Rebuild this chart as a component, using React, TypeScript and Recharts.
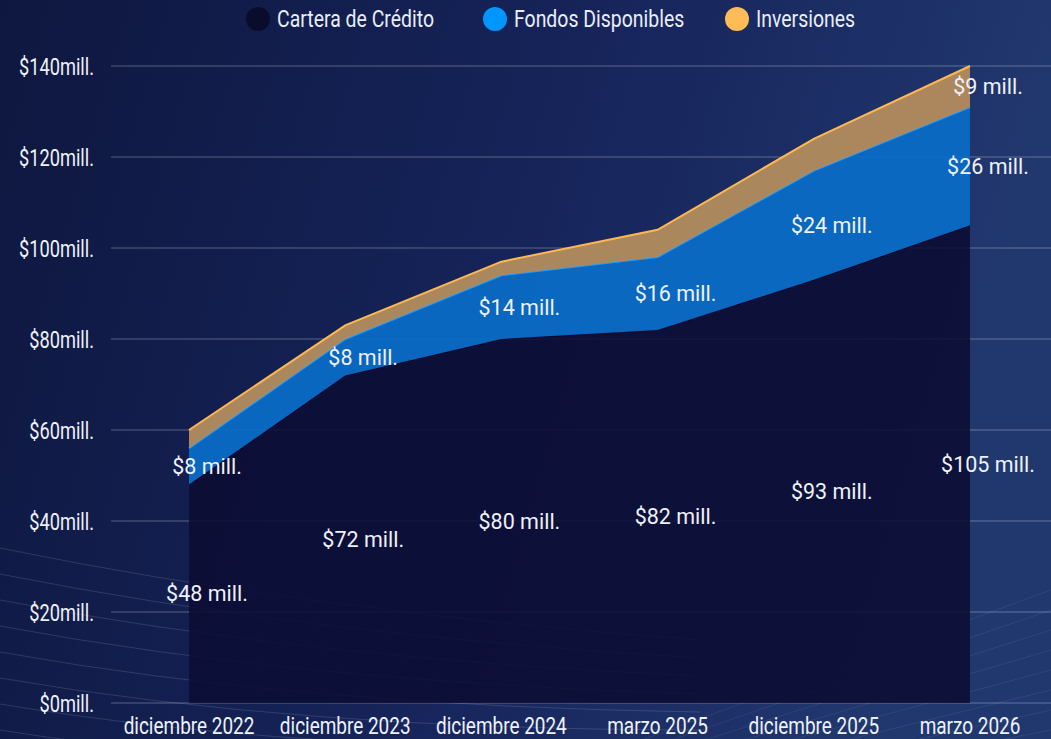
import React from 'react';
import { ComposedChart, Area, Line, XAxis, YAxis, CartesianGrid, Legend, LabelList } from 'recharts';

const categories = ['diciembre 2022', 'diciembre 2023', 'diciembre 2024', 'marzo 2025', 'diciembre 2025', 'marzo 2026'];
const cartera = [48, 72, 80, 82, 93, 105];
const fondos = [8, 8, 14, 16, 24, 26];
const inversiones = [4, 3, 3, 6, 7, 9];
const yTicks = [0, 20, 40, 60, 80, 100, 120, 140];

const seriesNames = ['Cartera de Crédito', 'Fondos Disponibles', 'Inversiones'];
const legendColors = ['#0a0c2e', '#0096ff', '#ffbb55'];
const legendLeft = [246, 483, 725];

const data = categories.map((c, i) => ({
  name: c,
  cartera: cartera[i],
  fondos: fondos[i],
  inversiones: inversiones[i],
  midCartera: cartera[i] / 2,
  midFondos: cartera[i] + fondos[i] / 2,
  midInversiones: cartera[i] + fondos[i] + inversiones[i] / 2,
}));

const FONT = 'Roboto, sans-serif';
const SQUEEZE = 0.79;

const makeLabel = (values: number[]) => (props: any) => {
  const { x, y, index } = props;
  const v = values[index];
  if (v < 8) return null;
  return (
    <text
      x={x + 18}
      y={y}
      textAnchor="middle"
      dominantBaseline="central"
      fill="#eef1f8"
      style={{ fontFamily: FONT, fontSize: 21.5 }}
    >
      {`$${v} mill.`}
    </text>
  );
};

const XTick = (props: any) => {
  const { x, y, payload } = props;
  return (
    <g transform={`translate(${x},${y})`}>
      <text
        transform={`scale(${SQUEEZE},1)`}
        textAnchor="middle"
        dy="0.75em"
        fill="#eef1f8"
        style={{ fontFamily: FONT, fontSize: 24 }}
      >
        {payload.value}
      </text>
    </g>
  );
};

const YTick = (props: any) => {
  const { x, y, payload } = props;
  return (
    <g transform={`translate(${x},${y})`}>
      <text
        transform={`scale(${SQUEEZE - 0.03},1)`}
        textAnchor="end"
        dy="0.36em"
        fill="#eef1f8"
        style={{ fontFamily: FONT, fontSize: 24 }}
      >
        {`$${payload.value}mill.`}
      </text>
    </g>
  );
};

const LegendContent = () => (
  <div style={{ position: 'relative', height: 38, width: 1051, fontFamily: FONT, fontSize: 24, color: '#e9edf7' }}>
    {seriesNames.map((n, i) => (
      <div
        key={n}
        style={{ position: 'absolute', left: legendLeft[i], top: 0, height: 38, display: 'flex', alignItems: 'center' }}
      >
        <span
          style={{
            display: 'inline-block',
            width: 24,
            height: 24,
            borderRadius: 12,
            background: legendColors[i],
            marginRight: 7,
            flex: 'none',
          }}
        />
        <span
          style={{
            display: 'inline-block',
            whiteSpace: 'nowrap',
            transform: `scaleX(${SQUEEZE + 0.02})`,
            transformOrigin: 'left center',
          }}
        >
          {n}
        </span>
      </div>
    ))}
  </div>
);

const Background = () => {
  const curves = [0, 1, 2, 3, 4, 5, 6, 7, 8];
  return (
    <svg width={1051} height={739} style={{ position: 'absolute', left: 0, top: 0 }}>
      <defs>
        <linearGradient id="bg" x1="0" y1="0" x2="1" y2="0.2">
          <stop offset="0%" stopColor="#0e173f" />
          <stop offset="55%" stopColor="#16245a" />
          <stop offset="100%" stopColor="#21386f" />
        </linearGradient>
      </defs>
      <rect x={0} y={0} width={1051} height={739} fill="url(#bg)" />
      {curves.map((i) => (
        <path
          key={i}
          d={`M0,${548 + i * 26} Q300,${610 + i * 24} 700,${640 + i * 18}`}
          fill="none"
          stroke="rgba(255,255,255,0.13)"
          strokeWidth={1}
        />
      ))}
      {curves.map((i) => (
        <path
          key={'d' + i}
          d={`M560,${770 + i * 8} L1051,${590 + i * 20}`}
          fill="none"
          stroke="rgba(255,255,255,0.07)"
          strokeWidth={1}
        />
      ))}
    </svg>
  );
};

export default function App() {
  return (
    <div style={{ position: 'absolute', left: 0, top: 0, width: 1051, height: 739, overflow: 'hidden' }}>
      <Background />
      <div style={{ position: 'absolute', left: 0, top: 0 }}>
        <ComposedChart width={1051} height={739} data={data} margin={{ top: 28, right: 0, bottom: 0, left: 0 }}>
          <CartesianGrid vertical={false} stroke="rgba(255,255,255,0.3)" strokeWidth={1} />
          <XAxis
            dataKey="name"
            scale="point"
            padding={{ left: 78, right: 81 }}
            height={36}
            axisLine={false}
            tickLine={false}
            tickSize={0}
            tickMargin={13}
            interval={0}
            tick={<XTick />}
          />
          <YAxis
            width={111}
            domain={[0, 140]}
            ticks={yTicks}
            axisLine={false}
            tickLine={false}
            tickSize={0}
            tickMargin={17}
            tick={<YTick />}
          />
          <Legend verticalAlign="top" content={<LegendContent />} wrapperStyle={{ top: 0, left: 0, width: 1051 }} />
          <Area
            type="linear"
            dataKey="cartera"
            stackId="a"
            stroke="#07092a"
            strokeWidth={2}
            fill="#0b0d33"
            fillOpacity={0.88}
            isAnimationActive={false}
          />
          <Area
            type="linear"
            dataKey="fondos"
            stackId="a"
            stroke="#1a9bff"
            strokeWidth={2}
            fill="#0a6cc6"
            fillOpacity={0.95}
            isAnimationActive={false}
          />
          <Area
            type="linear"
            dataKey="inversiones"
            stackId="a"
            stroke="#ffb84f"
            strokeWidth={2}
            fill="#b18a5e"
            fillOpacity={0.97}
            isAnimationActive={false}
          />
          <Line dataKey="midCartera" stroke="none" dot={false} activeDot={false} legendType="none" isAnimationActive={false}>
            <LabelList dataKey="cartera" content={makeLabel(cartera)} />
          </Line>
          <Line dataKey="midFondos" stroke="none" dot={false} activeDot={false} legendType="none" isAnimationActive={false}>
            <LabelList dataKey="fondos" content={makeLabel(fondos)} />
          </Line>
          <Line dataKey="midInversiones" stroke="none" dot={false} activeDot={false} legendType="none" isAnimationActive={false}>
            <LabelList dataKey="inversiones" content={makeLabel(inversiones)} />
          </Line>
        </ComposedChart>
      </div>
    </div>
  );
}
